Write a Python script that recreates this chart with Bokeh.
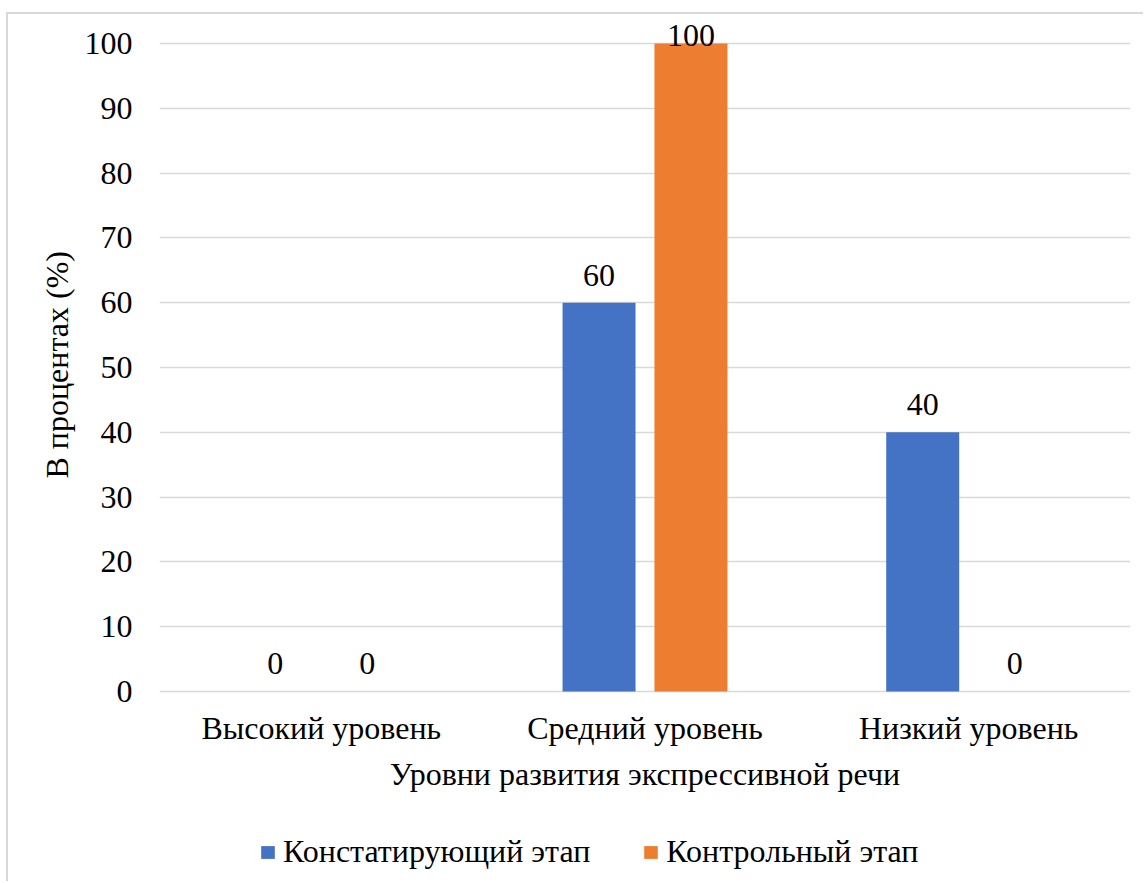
import numpy as np
from bokeh.plotting import figure
from bokeh.models import (ColumnDataSource, FactorRange, Range1d, Legend, LegendItem,
                          LabelSet, FixedTicker, Title)
from bokeh.transform import dodge
from bokeh.embed import file_html
from bokeh.resources import INLINE

# ---- data ----
categories = ["Высокий уровень", "Средний уровень", "Низкий уровень"]
series_names = ["Констатирующий этап", "Контрольный этап"]
stage1 = [0, 60, 40]
stage2 = [0, 100, 0]
y_ticks = [0, 10, 20, 30, 40, 50, 60, 70, 80, 90, 100]
x_title = "Уровни развития экспрессивной речи"
y_title = "В процентах (%)"
colors = ["#4472C4", "#ED7D31"]

FONT = "Liberation Serif"
FS = "32px"
OFF = 0.142
BW = 0.2255

src = ColumnDataSource(dict(
    cat=categories,
    s1=stage1, s2=stage2,
    l1=[str(v) for v in stage1], l2=[str(v) for v in stage2],
    y1=[min(v, 97) for v in stage1], y2=[min(v, 97) for v in stage2],
))

# frame spans down to the canvas bottom; the x axis is pinned at y=0
p = figure(x_range=FactorRange(factors=categories), y_range=Range1d(-29.63, 104.01),
           width=1137, height=869, output_backend="svg", toolbar_location=None,
           min_border_left=151, min_border_right=15, min_border_top=3,
           min_border_bottom=0)
p.margin = (12, 0, 0, 6)
p.styles = {"border-top": "2px solid #d9d9d9", "border-left": "2px solid #d9d9d9"}

r1 = p.vbar(x=dodge("cat", -OFF, range=p.x_range), top="s1", width=BW, source=src,
            fill_color=colors[0], line_color=None)
r2 = p.vbar(x=dodge("cat", OFF, range=p.x_range), top="s2", width=BW, source=src,
            fill_color=colors[1], line_color=None)

for xo, yc, lc in [(-OFF, "y1", "l1"), (OFF, "y2", "l2")]:
    ls = LabelSet(x=dodge("cat", xo, range=p.x_range), y=yc, text=lc, source=src,
                  text_align="center", text_baseline="alphabetic", y_offset=17,
                  text_font=FONT, text_font_size=FS, text_color="black")
    p.add_layout(ls)

p.outline_line_color = None
p.background_fill_color = "white"
p.border_fill_color = "white"
p.xgrid.visible = False
p.ygrid.grid_line_color = "#d9d9d9"
p.ygrid.grid_line_width = 1.3

for ax in (p.xaxis[0], p.yaxis[0]):
    ax.axis_line_color = None
    ax.major_tick_line_color = None
    ax.minor_tick_line_color = None
    ax.major_tick_out = 0
    ax.major_tick_in = 0
    ax.major_label_text_font = FONT
    ax.major_label_text_font_size = FS
    ax.major_label_text_color = "black"
    ax.axis_label_text_font = FONT
    ax.axis_label_text_font_size = FS
    ax.axis_label_text_font_style = "normal"
    ax.axis_label_text_color = "black"

p.yaxis[0].ticker = FixedTicker(ticks=y_ticks)
p.yaxis[0].major_label_standoff = 27
p.xaxis[0].fixed_location = 0
p.xaxis[0].major_label_standoff = 19
p.xaxis[0].axis_label = x_title
p.xaxis[0].axis_label_standoff = 6

ytitle = Title(text=y_title, align="left", offset=405, standoff=14,
               text_font=FONT, text_font_size=FS, text_font_style="normal",
               text_color="black")
p.add_layout(ytitle, "left")

legend = Legend(items=[LegendItem(label=series_names[0], renderers=[r1]),
                       LegendItem(label=series_names[1], renderers=[r2])],
                orientation="horizontal", location=(100, 13),
                glyph_width=17, glyph_height=16, label_standoff=7, spacing=52,
                padding=0, margin=0, border_line_color=None, background_fill_alpha=0,
                label_text_font=FONT, label_text_font_size=FS, label_text_color="black")
p.add_layout(legend, "center")

open("out.html", "w").write(file_html(p, INLINE))
